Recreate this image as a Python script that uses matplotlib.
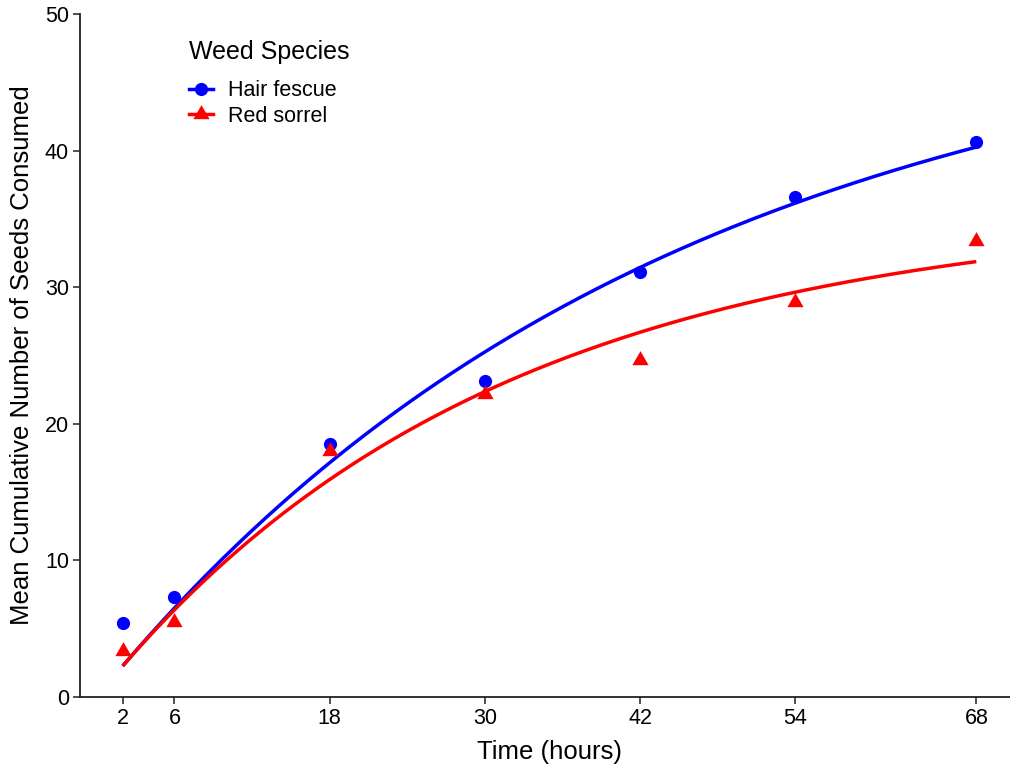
import numpy as np
import matplotlib
matplotlib.use("Agg")
import matplotlib.pyplot as plt
from matplotlib.lines import Line2D

plt.rcParams["font.family"] = ["Liberation Sans", "DejaVu Sans"]

# Observed means
time_h = [2, 6, 18, 30, 42, 54, 68]
hair_fescue = [5.4, 7.3, 18.5, 23.1, 31.1, 36.6, 40.6]
red_sorrel = [3.4, 5.5, 18.0, 22.2, 24.7, 28.9, 33.4]
species = ["Hair fescue", "Red sorrel"]
x_ticks = [2, 6, 18, 30, 42, 54, 68]
y_ticks = [0, 10, 20, 30, 40, 50]


def fit_rise_to_max(t, y):
    """Least-squares fit of y = a * (1 - exp(-b t)); returns (a, b)."""
    t = np.asarray(t, float)
    y = np.asarray(y, float)
    best = None
    for b in np.linspace(0.001, 0.2, 20000):
        f = 1.0 - np.exp(-b * t)
        a = (f @ y) / (f @ f)
        sse = np.sum((y - a * f) ** 2)
        if best is None or sse < best[0]:
            best = (sse, a, b)
    return best[1], best[2]


fig = plt.figure(figsize=(10.1, 7.7), dpi=100)
ax = fig.add_axes([80 / 1010, 1 - 697 / 770, 939 / 1010, 683 / 770])

tri = [(0, 1), (-0.866, -0.5), (0.866, -0.5)]
styles = [
    dict(color="#0000FF", marker="o", ms=9.5),
    dict(color="#FF0000", marker=tri, ms=13.5),
]

t_fine = np.linspace(min(time_h), max(time_h), 300)
handles = []
for name, vals, st in zip(species, [hair_fescue, red_sorrel], styles):
    a, b = fit_rise_to_max(time_h, vals)
    ax.plot(t_fine, a * (1 - np.exp(-b * t_fine)), color=st["color"], lw=2.5,
            solid_capstyle="butt", zorder=2)
    ax.plot(time_h, vals, linestyle="none", marker=st["marker"], ms=st["ms"],
            color=st["color"], mec="none", zorder=3)
    handles.append(Line2D([], [], color=st["color"], lw=2.5, marker=st["marker"],
                          ms=st["ms"], mec="none", label=name))

ax.set_xlim(-1.3, 71.3)
ax.set_ylim(0, 50)
ax.set_xticks(x_ticks)
ax.set_yticks(y_ticks)
for side in ("top", "right"):
    ax.spines[side].set_visible(False)
for side in ("left", "bottom"):
    ax.spines[side].set_linewidth(1.3)
    ax.spines[side].set_color("#222222")
ax.tick_params(axis="both", length=5, width=1.2, color="#333333",
               labelsize=15.5, labelcolor="black", pad=3)

ax.set_xlabel("Time (hours)", fontsize=18.5, labelpad=8)
ax.set_ylabel("Mean Cumulative Number of Seeds Consumed", fontsize=18.5, labelpad=8)

leg = ax.legend(handles=handles, title="Weed Species", loc="upper left",
                bbox_to_anchor=(170 / 1010, 1 - 21 / 770),
                bbox_transform=fig.transFigure, frameon=False,
                fontsize=15.5, title_fontsize=18, alignment="left",
                handlelength=1.1, handletextpad=0.7, labelspacing=0.21)
# a little more room between the legend title and its entries
leg._legend_box.sep = 11.5

fig.savefig("out.png", dpi=100, facecolor="white")
